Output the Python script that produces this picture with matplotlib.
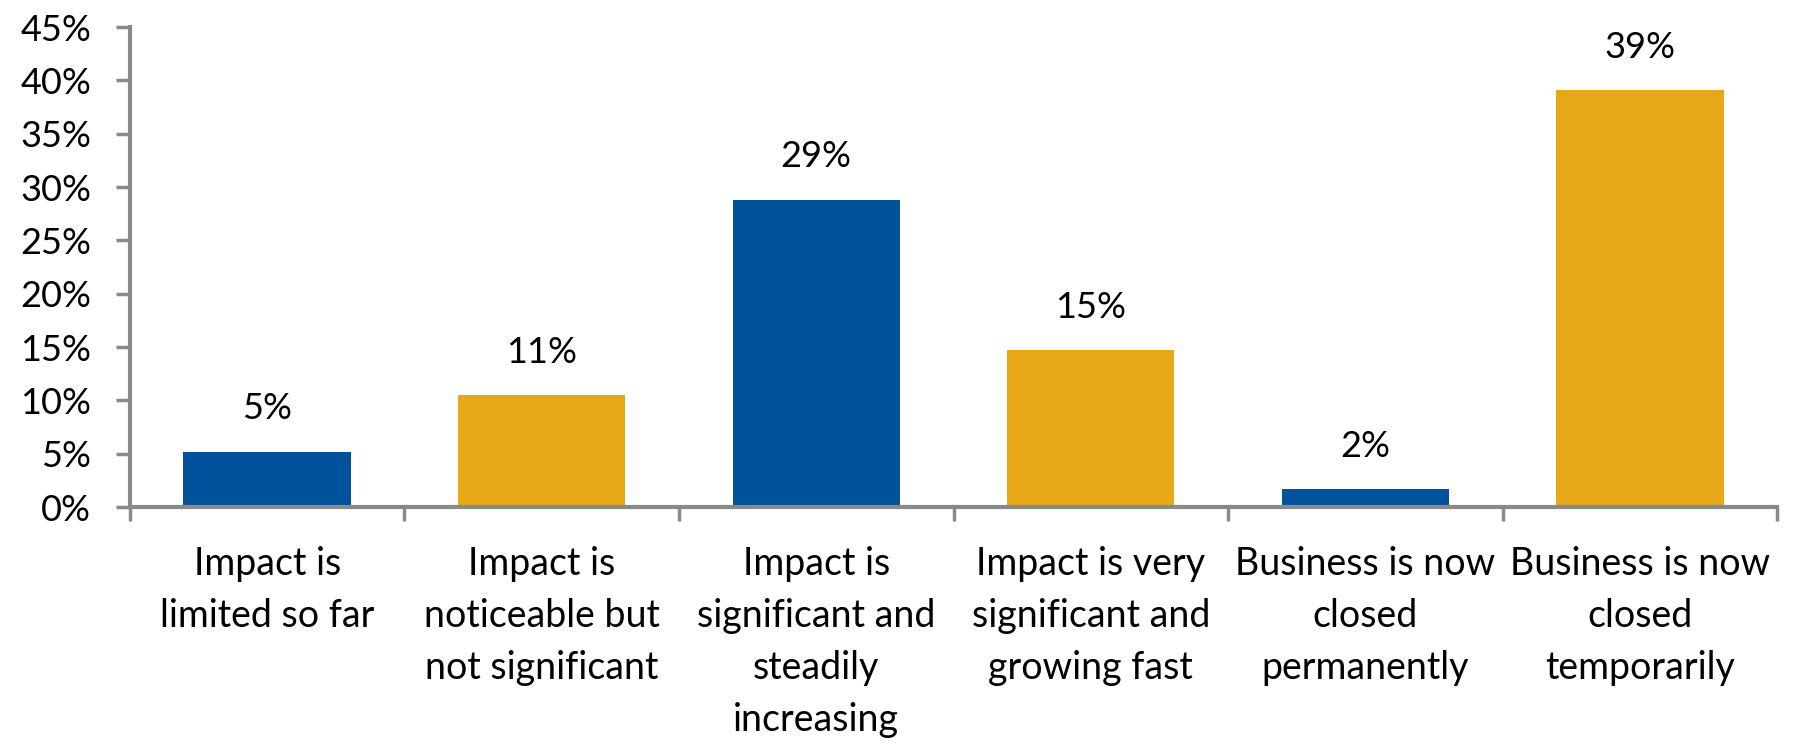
import matplotlib

matplotlib.use("Agg")
import matplotlib.pyplot as plt
import numpy as np

categories = [
    "Impact is\nlimited so far",
    "Impact is\nnoticeable but\nnot significant",
    "Impact is\nsignificant and\nsteadily\nincreasing",
    "Impact is very\nsignificant and\ngrowing fast",
    "Business is now\nclosed\npermanently",
    "Business is now\nclosed\ntemporarily",
]
values = [5.2, 10.5, 28.8, 14.7, 1.7, 39.1]
labels = ["5%", "11%", "29%", "15%", "2%", "39%"]
y_ticks = [0, 5, 10, 15, 20, 25, 30, 35, 40, 45]

BLUE = "#00539B"
GOLD = "#E6A817"
GREY = "#898989"

plt.rcParams["font.family"] = ["Lato", "DejaVu Sans"]

fig = plt.figure(figsize=(17.95, 7.44), dpi=100)
ax = fig.add_axes([0.0724, 0.3185, 0.9176, 0.6452])

x = np.arange(len(values))
colors = [BLUE if i % 2 == 0 else GOLD for i in range(len(values))]
bars = ax.bar(x, values, width=0.61, color=colors, zorder=2)

for b, lab in zip(bars, labels):
    ax.annotate(lab, (b.get_x() + b.get_width() / 2, b.get_height()),
                xytext=(0, 19), textcoords="offset points",
                ha="center", va="bottom", fontsize=26)

ax.set_xlim(-0.5, len(values) - 0.5)
ax.set_ylim(0, 45)
ax.set_yticks(y_ticks)
ax.set_yticklabels([f"{t}%" for t in y_ticks], fontsize=26)
ax.set_xticks(x)
ax.set_xticklabels(categories, fontsize=27, linespacing=1.55, va="top")
ax.set_xticks(np.arange(-0.5, len(values)), minor=True)

ax.tick_params(axis="x", which="major", length=0, pad=28)
ax.tick_params(axis="x", which="minor", length=10, width=2.5, color=GREY)
ax.tick_params(axis="y", length=10, width=2.5, color=GREY, pad=18)

for side in ["top", "right"]:
    ax.spines[side].set_visible(False)
for side in ["left", "bottom"]:
    ax.spines[side].set_color(GREY)
    ax.spines[side].set_linewidth(3)

fig.savefig("out.png", dpi=100)
